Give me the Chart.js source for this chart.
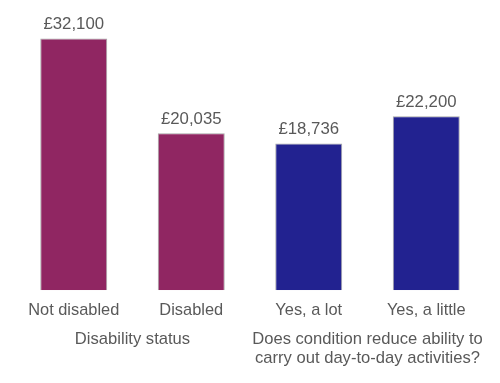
<!DOCTYPE html>
<html>
<head>
<meta charset="utf-8">
<script src="https://cdn.jsdelivr.net/npm/chart.js@4/dist/chart.umd.min.js"></script>
<style>
  html, body { margin: 0; padding: 0; background: #ffffff; }
  #wrap { width: 500px; height: 383px; position: relative; }
</style>
</head>
<body>
<div id="wrap"><canvas id="c" width="500" height="383"></canvas></div>
<script>
const categories = ["Not disabled", "Disabled", "Yes, a lot", "Yes, a little"];
const values = [32100, 20035, 18736, 22200];
const valueLabels = ["£32,100", "£20,035", "£18,736", "£22,200"];
const groupLabels = [["Disability status"], ["Does condition reduce ability to", "carry out day-to-day activities?"]];
const groupMembers = [[0, 1], [2, 3]];
const groupColors = ["#902662", "#222290"];

const barColors = categories.map((_, i) => groupColors[groupMembers.findIndex(g => g.includes(i))]);
const FONT = "'Liberation Sans', Arial, sans-serif";
const TEXT = "#595959";

const labelPlugin = {
  id: 'labels',
  afterDatasetsDraw(chart) {
    const ctx = chart.ctx;
    const meta = chart.getDatasetMeta(0);
    ctx.save();
    ctx.fillStyle = TEXT;
    ctx.textAlign = 'center';
    ctx.textBaseline = 'alphabetic';
    ctx.font = "16.8px " + FONT;
    meta.data.forEach((bar, i) => {
      ctx.fillText(valueLabels[i], bar.x, bar.y - 9.5);
    });
    ctx.font = "16.6px " + FONT;
    const xs = chart.scales.x;
    groupLabels.forEach((lines, g) => {
      const idx = groupMembers[g];
      const cx = idx.reduce((s, i) => s + xs.getPixelForValue(i), 0) / idx.length;
      lines.forEach((line, j) => {
        ctx.fillText(line, cx, 344 + j * 19);
      });
    });
    ctx.restore();
  }
};

new Chart(document.getElementById('c'), {
  type: 'bar',
  data: {
    labels: categories,
    datasets: [{
      data: values,
      backgroundColor: barColors,
      borderColor: '#a6a6a6',
      borderWidth: 1,
      barPercentage: 0.57,
      categoryPercentage: 1.0
    }]
  },
  options: {
    responsive: false,
    animation: false,
    layout: { padding: { top: 8, left: 15, right: 15, bottom: 53 } },
    plugins: { legend: { display: false }, tooltip: { enabled: false } },
    scales: {
      y: { display: false, min: 0, max: 36000 },
      x: {
        grid: { display: false, drawTicks: false },
        border: { display: false },
        ticks: { color: TEXT, font: { family: FONT, size: 16.4 }, padding: 10, maxRotation: 0 }
      }
    }
  },
  plugins: [labelPlugin]
});
</script>
</body>
</html>
